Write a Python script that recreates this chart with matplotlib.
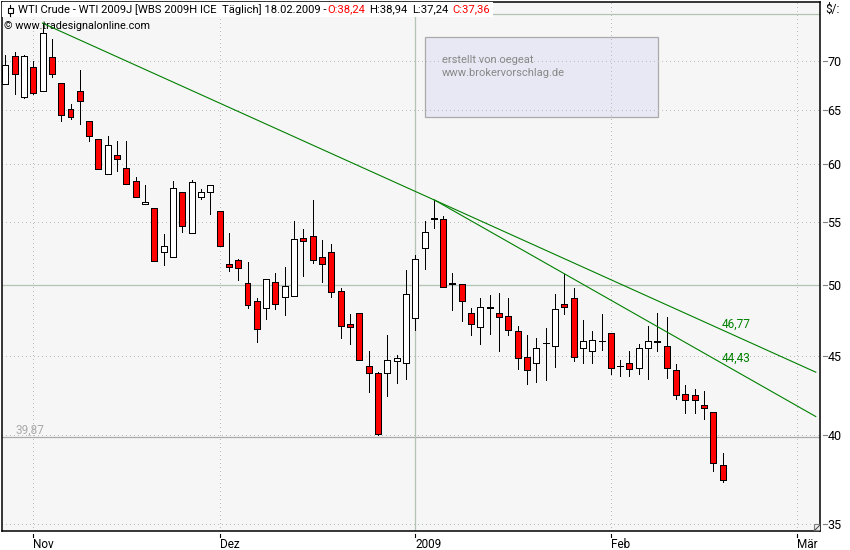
import matplotlib
matplotlib.use("Agg")
import matplotlib.pyplot as plt
from matplotlib.patches import Rectangle

plt.rcParams['font.family'] = ['Roboto', 'DejaVu Sans']

# daily candles, WTI 2009J, 3 Nov 2008 - 18 Feb 2009
opens = [67.61, 70.50, 66.27, 69.35, 66.91, 70.40, 67.71, 65.13, 66.91, 63.97,
         62.28, 59.10, 60.80, 59.63, 58.49, 56.51, 56.17, 52.60, 52.21, 57.53,
         54.12, 57.07, 57.53, 55.93, 51.67, 51.97, 50.22, 48.82, 48.38, 50.29,
         49.18, 49.25, 53.71, 53.87, 52.17, 52.60, 49.62, 47.17, 47.95, 44.30,
         43.84, 43.84, 44.63, 44.50, 47.60, 52.92, 55.19, 55.26, 50.22, 50.14,
         47.95, 46.96, 48.45, 47.95, 47.74, 46.68, 44.90, 44.50, 45.85, 45.64,
         48.67, 49.11, 45.51, 45.30, 46.05, 46.54, 44.36, 44.50, 44.22, 45.57,
         45.99, 45.64, 44.09, 42.48, 42.42, 41.79, 41.41, 38.24]
highs = [70.53, 70.88, 70.60, 69.90, 74.02, 72.34, 67.71, 65.62, 68.97, 63.97,
         62.28, 62.49, 62.03, 62.03, 58.83, 58.14, 56.17, 53.98, 58.43, 57.53,
         58.52, 57.80, 58.14, 55.93, 54.06, 52.05, 51.77, 49.11, 50.52, 50.98,
         51.44, 55.09, 54.44, 56.85, 53.55, 53.23, 49.85, 47.88, 47.95, 45.30,
         43.92, 46.40, 45.03, 51.21, 52.37, 55.09, 56.85, 55.51, 50.98, 50.14,
         48.31, 49.11, 49.33, 49.47, 49.11, 47.03, 46.40, 46.19, 46.89, 49.40,
         50.83, 49.85, 47.45, 46.68, 47.88, 46.54, 44.72, 45.33, 45.78, 47.05,
         47.97, 47.69, 44.43, 43.06, 42.86, 42.67, 41.41, 38.94]
lows = [67.61, 66.54, 66.17, 66.61, 66.91, 68.28, 63.93, 64.13, 63.65, 62.06,
        59.55, 59.10, 59.31, 58.23, 57.10, 56.51, 51.90, 51.53, 52.21, 54.17,
        54.12, 56.93, 55.65, 53.05, 51.08, 50.39, 48.35, 45.94, 47.57, 48.28,
        47.85, 49.25, 50.70, 51.71, 50.24, 49.15, 46.23, 45.82, 44.70, 42.64,
        39.96, 42.39, 43.20, 43.48, 46.79, 51.25, 54.50, 49.92, 48.21, 47.42,
        46.44, 45.82, 46.51, 45.35, 46.44, 44.13, 43.16, 43.29, 43.41, 44.27,
        47.93, 44.67, 44.54, 44.54, 45.39, 43.79, 43.66, 43.66, 43.81, 43.47,
        45.33, 43.53, 42.18, 41.31, 41.31, 40.96, 37.90, 37.24]
closes = [69.56, 68.63, 70.50, 66.71, 72.97, 68.63, 64.55, 64.36, 65.91, 62.56,
          59.55, 61.72, 60.44, 58.23, 57.10, 56.68, 51.90, 53.08, 57.89, 54.68,
          58.41, 57.53, 58.14, 53.05, 51.41, 51.36, 48.53, 46.82, 50.52, 48.60,
          49.99, 53.63, 53.47, 51.97, 51.67, 49.55, 47.03, 46.96, 44.70, 43.84,
          40.02, 44.76, 44.83, 49.40, 52.05, 54.20, 55.35, 49.92, 50.14, 48.89,
          47.17, 48.45, 48.31, 47.67, 46.75, 44.83, 44.09, 45.57, 45.85, 48.24,
          48.45, 44.96, 46.05, 46.12, 46.05, 44.22, 44.36, 44.16, 45.57, 45.99,
          45.92, 44.22, 42.42, 42.16, 42.10, 41.66, 38.32, 37.36]

# trend lines: (bar index, price) at both ends
trend_x = [[4, 87], [46, 87]]
trend_y = [[74.02, 43.92], [56.85, 41.10]]
trend_labels = ['46,77', '44,43']

y_ticks = [35, 40, 45, 50, 55, 60, 65, 70]
y_dotted = [35, 40, 45, 55, 60, 65, 70]
y_solid = [50, 75]
support = 39.87
x_ticks = [3, 23, 44, 65, 85]
x_labels = ['Nov', 'Dez', '2009', 'Feb', 'Mär']

W, H = 850, 550
STEP = 9.316   # pixels per bar
GRID = '#bdbdbd'
GREEN_GRID = '#b4c4b4'
TREND = '#008000'


def fx(x):
    return x / W


def fy(y):
    return 1 - y / H


fig = plt.figure(figsize=(W / 100, H / 100), dpi=100, facecolor='white')
ax = fig.add_axes([fx(1.5), fy(530.5), (820.5 - 1.5) / W, (530.5 - 1.5) / H])
ax.set_facecolor('#f6f6f6')
ax.set_yscale('log')
ax.set_xlim((1.5 - 5.3) / STEP, (820.5 - 5.3) / STEP)
ax.set_ylim(34.66, 76.46)

for s in ax.spines.values():
    s.set_linewidth(1.1)

# grid
for v in y_dotted:
    c = GREEN_GRID if v == 35 else GRID
    ax.axhline(v, color=c, lw=0.72, ls=(0, (1, 4)), zorder=1, antialiased=False)
for v in y_solid:
    ax.axhline(v, color=GREEN_GRID, lw=0.9, zorder=1)
ax.axhline(support, color='#aaaaaa', lw=0.9, zorder=1)
for i, v in enumerate(x_ticks):
    if x_labels[i] == '2009':
        ax.axvline(v, color=GREEN_GRID, lw=0.9, zorder=1)
    else:
        ax.axvline(v, color=GRID, lw=0.72, ls=(0, (1, 4)), zorder=1, antialiased=False)

# note box
ax.add_patch(Rectangle((fx(424.5), fy(116.5)), 233 / W, 79 / H, transform=fig.transFigure,
                       facecolor='#e8e8f4', edgecolor='#aaaaaa', lw=0.9, zorder=0.5))
ax.text(fx(442), fy(60), 'erstellt von oegeat', transform=fig.transFigure, color='#888888',
        fontsize=8, va='center', ha='left', zorder=1.5)
ax.text(fx(442), fy(73), 'www.brokervorschlag.de', transform=fig.transFigure, color='#888888',
        fontsize=8, va='center', ha='left', zorder=1.5)

# candles
for i in range(len(opens)):
    ax.vlines(i, lows[i], highs[i], color='black', lw=0.6, zorder=3, antialiased=False)
    bottom = min(opens[i], closes[i])
    fill = 'white' if closes[i] > opens[i] else '#ff0000'
    ax.bar(i, abs(closes[i] - opens[i]), width=0.64, bottom=bottom, facecolor=fill,
           edgecolor='black', linewidth=0.6, zorder=3.5, antialiased=False)

# trend lines
for i in range(len(trend_x)):
    ax.plot(trend_x[i], trend_y[i], color=TREND, lw=0.8, zorder=4)
ax.text(fx(722), fy(324), trend_labels[0], transform=fig.transFigure, color=TREND,
        fontsize=8.5, va='center', zorder=5)
ax.text(fx(722), fy(358), trend_labels[1], transform=fig.transFigure, color=TREND,
        fontsize=8.5, va='center', zorder=5)

ax.text(fx(15), fy(430), '39,87', transform=fig.transFigure, color='#aaaaaa',
        fontsize=8.5, va='center', zorder=2)

# axis ticks and labels
ax.yaxis.tick_right()
ax.minorticks_off()
ax.set_yticks(y_ticks)
ax.set_yticklabels([str(v) for v in y_ticks], fontsize=9)
ax.set_xticks(x_ticks)
ax.set_xticklabels(x_labels, fontsize=8.5, ha='left')
ax.tick_params(axis='y', which='both', length=0, pad=5)
ax.tick_params(axis='x', length=0, pad=5.5)
ax.minorticks_off()
for v in y_ticks:
    ax.plot([1.0030, 1.0075], [v, v], transform=ax.get_yaxis_transform(), color='#808080',
            lw=0.8, clip_on=False, zorder=5)
for v in x_ticks:
    ax.plot([v, v], [-0.0075, -0.013], transform=ax.get_xaxis_transform(), color='black',
            lw=0.8, clip_on=False, zorder=5)

# header strip
ax.add_patch(Rectangle((fx(2), fy(17)), 491 / W, 15 / H, transform=fig.transFigure,
                       facecolor='white', edgecolor='none', zorder=6))
ax.plot([fx(10), fx(10)], [fy(4.5), fy(15.5)], transform=fig.transFigure, color='black',
        lw=0.8, zorder=7, clip_on=False)
ax.add_patch(Rectangle((fx(7.5), fy(12.5)), 5 / W, 5 / H, transform=fig.transFigure,
                       facecolor='white', edgecolor='black', lw=0.8, zorder=8))
parts = [('WTI Crude - WTI 2009J [WBS 2009H ICE  Täglich] 18.02.2009 -', 'black', 18),
         ('O:38,24', '#ff0000', 327), ('H:38,94', 'black', 369),
         ('L:37,24', 'black', 412), ('C:37,36', '#ff0000', 452)]
for label, col, x in parts:
    ax.text(fx(x), fy(9.5), label, transform=fig.transFigure, color=col, fontsize=8.15,
            va='center', ha='left', zorder=8)
ax.text(fx(4), fy(26), '© www.tradesignalonline.com', transform=fig.transFigure, color='black',
        fontsize=7.8, va='center', ha='left', zorder=1.5)

fig.text(fx(825), fy(9.5), '$/:', fontsize=8.5, color='black', va='center', ha='left')

# resize handle in the corner
ax.add_patch(Rectangle((fx(813.5), fy(530)), 6.5 / W, 6.5 / H, transform=fig.transFigure,
                       facecolor='#f0f0f0', edgecolor='#808080', lw=0.8, zorder=6))
ax.plot([fx(815), fx(820)], [fy(530), fy(525)], transform=fig.transFigure, color='#404040',
        lw=0.7, zorder=7)

fig.savefig('out.png', dpi=100, facecolor='white')
